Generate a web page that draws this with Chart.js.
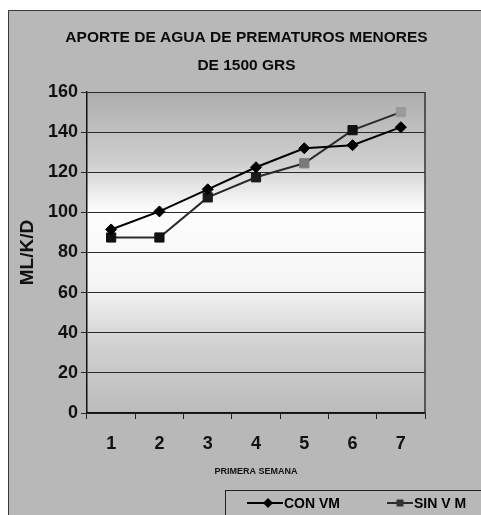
<!DOCTYPE html>
<html>
<head>
<meta charset="utf-8">
<script src="https://cdn.jsdelivr.net/npm/chart.js@4"></script>
<style>
  html, body { margin: 0; padding: 0; background: #ffffff; }
  canvas { display: block; }
</style>
</head>
<body>
<canvas id="c" width="481" height="515"></canvas>
<script>
// ---- data ----
const categories = ['1', '2', '3', '4', '5', '6', '7'];
const conVM = [91.5, 100.5, 111.5, 122.5, 132, 133.5, 142.5];
const sinVM = [87.5, 87.5, 107.5, 117.5, 124.5, 141, 150];
const seriesNames = ['CON VM', 'SIN V M'];
const titleLines = ['APORTE DE AGUA DE PREMATUROS MENORES', 'DE 1500 GRS'];
const xTitle = 'PRIMERA SEMANA';
const yTitle = 'ML/K/D';

const FONT = '"Liberation Sans", Arial, Helvetica, sans-serif';

const sinPointColors = ['#111', '#111', '#1a1a1a', '#1a1a1a', '#7a7a7a', '#111', '#9a9a9a'];

const backgroundPlugin = {
  id: 'bg',
  beforeDraw(chart) {
    const { ctx, chartArea: a } = chart;
    ctx.save();
    ctx.fillStyle = '#ffffff';
    ctx.fillRect(0, 0, chart.width, chart.height);
    ctx.fillStyle = '#b8b8b8';
    ctx.fillRect(8, 10, chart.width - 8, chart.height - 10);
    ctx.strokeStyle = '#3a3a3a';
    ctx.lineWidth = 1;
    ctx.beginPath();
    ctx.moveTo(8.5, chart.height);
    ctx.lineTo(8.5, 10.5);
    ctx.lineTo(chart.width, 10.5);
    ctx.stroke();
    // plot area gradient
    const g = ctx.createLinearGradient(0, a.top, 0, a.bottom);
    g.addColorStop(0, '#adadad');
    g.addColorStop(0.22, '#cfcfcf');
    g.addColorStop(0.37, '#fdfdfd');
    g.addColorStop(0.6, '#f6f6f6');
    g.addColorStop(0.78, '#d2d2d2');
    g.addColorStop(1, '#bbbbbb');
    ctx.fillStyle = g;
    ctx.fillRect(a.left, a.top, a.right - a.left, a.bottom - a.top);
    ctx.restore();
  },
  beforeDatasetsDraw(chart) {
    const { ctx, chartArea: a } = chart;
    ctx.save();
    ctx.strokeStyle = '#333';
    ctx.lineWidth = 1.5;
    ctx.beginPath();
    ctx.moveTo(a.right, a.top);
    ctx.lineTo(a.right, a.bottom);
    ctx.stroke();
    ctx.restore();
  }
};

const legendPlugin = {
  id: 'customLegend',
  afterDraw(chart) {
    const { ctx } = chart;
    ctx.save();
    ctx.strokeStyle = '#222';
    ctx.lineWidth = 1;
    ctx.strokeRect(225.5, 490.5, 300, 100);
    const y = 503;
    ctx.font = 'bold 14px ' + FONT;
    ctx.textBaseline = 'middle';
    ctx.textAlign = 'left';
    // item 1
    ctx.strokeStyle = '#000';
    ctx.lineWidth = 2;
    ctx.beginPath(); ctx.moveTo(247, y); ctx.lineTo(283, y); ctx.stroke();
    ctx.fillStyle = '#000';
    ctx.beginPath();
    ctx.moveTo(268, y - 5); ctx.lineTo(273, y); ctx.lineTo(268, y + 5); ctx.lineTo(263, y);
    ctx.closePath(); ctx.fill();
    ctx.fillText(seriesNames[0], 284, y + 1);
    // item 2
    ctx.strokeStyle = '#2a2a2a';
    ctx.beginPath(); ctx.moveTo(387, y); ctx.lineTo(413, y); ctx.stroke();
    ctx.fillStyle = '#333';
    ctx.fillRect(396.5, y - 3.5, 7, 7);
    ctx.fillStyle = '#000';
    ctx.fillText(seriesNames[1], 414, y + 1);
    ctx.restore();
  }
};

new Chart(document.getElementById('c'), {
  type: 'line',
  data: {
    labels: categories,
    datasets: [
      {
        label: seriesNames[0],
        data: conVM,
        borderColor: '#000',
        borderWidth: 2,
        pointStyle: 'rectRot',
        pointRadius: 5.5,
        pointBackgroundColor: '#000',
        pointBorderColor: '#000',
        pointBorderWidth: 1,
        tension: 0,
        yAxisID: 'y'
      },
      {
        label: seriesNames[1],
        data: sinVM,
        borderColor: '#2a2a2a',
        borderWidth: 2,
        pointStyle: 'rect',
        pointRadius: 6.5,
        pointBackgroundColor: sinPointColors,
        pointBorderColor: sinPointColors,
        pointBorderWidth: 1,
        tension: 0,
        yAxisID: 'y'
      }
    ]
  },
  options: {
    responsive: false,
    animation: false,
    events: [],
    layout: { padding: { top: 10, left: 12, right: 0, bottom: 38 } },
    plugins: {
      legend: { display: false },
      tooltip: { enabled: false },
      title: {
        display: true,
        text: titleLines,
        color: '#0a0a0a',
        font: { family: FONT, size: 15.5, weight: 'bold', lineHeight: 1.776 },
        padding: { top: 14, bottom: 13 }
      }
    },
    scales: {
      x: {
        type: 'category',
        offset: true,
        grid: {
          display: true,
          drawOnChartArea: false,
          drawTicks: true,
          tickLength: 6,
          offset: true,
          color: '#222',
          lineWidth: 1
        },
        border: { display: true, color: '#111', width: 1.5 },
        ticks: {
          color: '#111',
          padding: 14,
          font: { family: FONT, size: 18, weight: 'bold' }
        },
        title: {
          display: true,
          text: xTitle,
          color: '#111',
          font: { family: FONT, size: 9, weight: 'bold' },
          padding: { top: 0, bottom: 0 }
        },
        afterFit(s) { s.height = 64; }
      },
      y: {
        type: 'linear',
        position: 'left',
        min: 0,
        max: 160,
        ticks: {
          stepSize: 20,
          color: '#111',
          padding: 3,
          font: { family: FONT, size: 18, weight: 'bold' }
        },
        grid: {
          color: '#2a2a2a',
          lineWidth: 1,
          drawTicks: true,
          tickLength: 6
        },
        border: { display: true, color: '#111', width: 1.5 },
        title: {
          display: true,
          text: yTitle,
          color: '#111',
          font: { family: FONT, size: 19, weight: 'bold' },
          padding: { top: 4, bottom: 0 }
        },
        afterFit(s) { s.width = 75; }
      },
      yR: {
        type: 'linear',
        position: 'right',
        display: true,
        grid: { display: false },
        border: { display: false },
        ticks: { display: false },
        afterFit(s) { s.width = 56; }
      }
    }
  },
  plugins: [backgroundPlugin, legendPlugin]
});
</script>
</body>
</html>
